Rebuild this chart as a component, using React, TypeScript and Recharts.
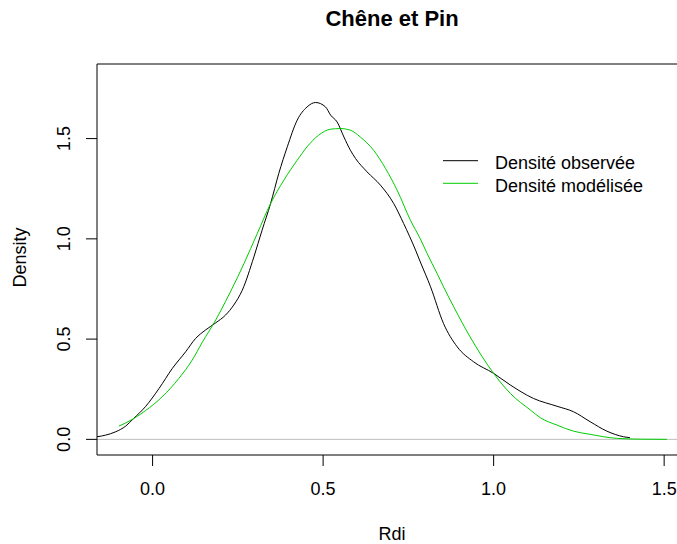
import React from "react";
import { LineChart, Line, XAxis, YAxis, ReferenceLine, Legend } from "recharts";

const observedX = [-0.163, -0.138, -0.108, -0.079, -0.055, -0.021, 0.019, 0.058, 0.097, 0.126, 0.155, 0.185, 0.214, 0.238, 0.263, 0.297, 0.321, 0.346, 0.37, 0.395, 0.424, 0.453, 0.478, 0.507, 0.522, 0.541, 0.561, 0.58, 0.595, 0.629, 0.668, 0.707, 0.736, 0.771, 0.785, 0.815, 0.853, 0.893, 0.941, 1.0, 1.049, 1.117, 1.186, 1.234, 1.283, 1.332, 1.381, 1.4];
const observedY = [0.013, 0.021, 0.038, 0.066, 0.105, 0.163, 0.254, 0.354, 0.437, 0.503, 0.545, 0.581, 0.62, 0.67, 0.744, 0.91, 1.043, 1.176, 1.326, 1.459, 1.592, 1.658, 1.68, 1.658, 1.617, 1.583, 1.508, 1.442, 1.401, 1.334, 1.268, 1.176, 1.077, 0.944, 0.885, 0.761, 0.578, 0.462, 0.387, 0.329, 0.271, 0.204, 0.165, 0.138, 0.088, 0.041, 0.013, 0.008];

const modelX = [-0.099, -0.059, -0.021, 0.028, 0.077, 0.116, 0.146, 0.185, 0.214, 0.233, 0.268, 0.307, 0.346, 0.385, 0.424, 0.453, 0.487, 0.522, 0.551, 0.58, 0.609, 0.648, 0.683, 0.717, 0.756, 0.785, 0.805, 0.834, 0.853, 0.883, 0.931, 1.0, 1.049, 1.108, 1.137, 1.186, 1.234, 1.283, 1.361, 1.43, 1.508];
const modelY = [0.066, 0.1, 0.143, 0.212, 0.304, 0.395, 0.485, 0.595, 0.688, 0.752, 0.877, 1.027, 1.176, 1.293, 1.392, 1.459, 1.517, 1.547, 1.55, 1.542, 1.508, 1.442, 1.351, 1.243, 1.093, 1.0, 0.927, 0.828, 0.761, 0.661, 0.511, 0.329, 0.229, 0.146, 0.108, 0.071, 0.041, 0.025, 0.005, 0.001, 0.0];

const xTicks = [0, 0.5, 1.0, 1.5];
const yTicks = [0, 0.5, 1.0, 1.5];
const xDomain = [-0.163, 1.567];
const yDomain = [-0.078, 1.872];

const seriesNames = ["Densité observée", "Densité modélisée"];
const title = "Chêne et Pin";
const xLabel = "Rdi";
const yLabel = "Density";

const observed = observedX.map((x, i) => ({ x, y: observedY[i] }));
const model = modelX.map((x, i) => ({ x, y: modelY[i] }));

const FONT = "'Liberation Sans', Arial, sans-serif";
const GREEN = "#00CD00";

const XTick = (props: any) => {
  const { x, y, payload } = props;
  return (
    <text x={x} y={y + 27} textAnchor="middle" fontSize={18} fontFamily={FONT} fill="#000">
      {Number(payload.value).toFixed(1)}
    </text>
  );
};

const YTick = (props: any) => {
  const { x, y, payload } = props;
  const bx = x - 13.5;
  return (
    <text x={bx} y={y} textAnchor="middle" fontSize={18} fontFamily={FONT} fill="#000" transform={`rotate(-90, ${bx}, ${y})`}>
      {Number(payload.value).toFixed(1)}
    </text>
  );
};

const LegendContent = () => (
  <svg width={240} height={56} style={{ display: "block" }}>
    <line x1={13} y1={15.7} x2={48} y2={15.7} stroke="#000" strokeWidth={1} />
    <text x={65} y={24.3} fontSize={18} fontFamily={FONT} fill="#000">{seriesNames[0]}</text>
    <line x1={13} y1={38.3} x2={48} y2={38.3} stroke={GREEN} strokeWidth={1} />
    <text x={65} y={47} fontSize={18} fontFamily={FONT} fill="#000">{seriesNames[1]}</text>
  </svg>
);

export default function App() {
  return (
    <div style={{ position: "fixed", left: 0, top: 0, width: 677, height: 544, overflow: "hidden", background: "#fff", fontFamily: FONT }}>
      <LineChart width={700} height={544} margin={{ top: 64, right: 13, bottom: 0, left: 0 }}>
        <XAxis
          dataKey="x"
          type="number"
          domain={xDomain}
          ticks={xTicks}
          allowDataOverflow
          height={89}
          tickSize={11}
          tick={<XTick />}
          axisLine={{ stroke: "#000" }}
          tickLine={{ stroke: "#000" }}
        />
        <YAxis
          dataKey="y"
          type="number"
          domain={yDomain}
          ticks={yTicks}
          allowDataOverflow
          width={97}
          tickSize={11}
          tick={<YTick />}
          axisLine={{ stroke: "#000" }}
          tickLine={{ stroke: "#000" }}
        />
        <ReferenceLine y={0} stroke="#bebebe" strokeWidth={1} />
        <ReferenceLine y={yDomain[1]} stroke="#000" strokeWidth={1} />
        <ReferenceLine x={xDomain[1]} stroke="#000" strokeWidth={1} />
        <Line data={observed} dataKey="y" type="monotone" stroke="#000" strokeWidth={1} dot={false} isAnimationActive={false} name={seriesNames[0]} />
        <Line data={model} dataKey="y" type="monotone" stroke={GREEN} strokeWidth={1} dot={false} isAnimationActive={false} name={seriesNames[1]} />
        <Legend
          layout="horizontal"
          verticalAlign="middle"
          align="center"
          content={<LegendContent />}
          wrapperStyle={{ position: "absolute", left: 430, top: 145, width: 240, height: 56 }}
        />
      </LineChart>
      <svg width={677} height={544} style={{ position: "absolute", left: 0, top: 0, pointerEvents: "none" }}>
        <text x={392} y={26} textAnchor="middle" fontSize={22} fontWeight="bold" fontFamily={FONT} fill="#000">{title}</text>
        <text x={392} y={540} textAnchor="middle" fontSize={18} fontFamily={FONT} fill="#000">{xLabel}</text>
        <text x={26} y={257.5} textAnchor="middle" fontSize={18} fontFamily={FONT} fill="#000" transform="rotate(-90, 26, 257.5)">{yLabel}</text>
      </svg>
    </div>
  );
}
